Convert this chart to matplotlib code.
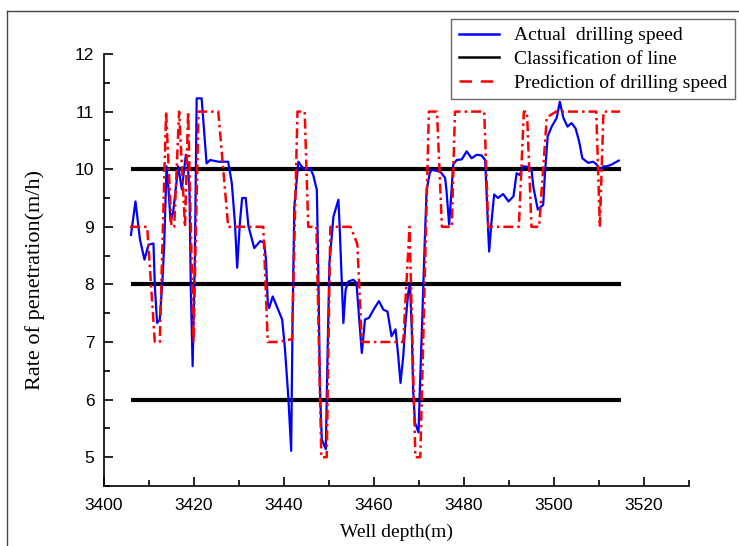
import matplotlib
matplotlib.use('Agg')
import matplotlib.pyplot as plt
from matplotlib.lines import Line2D
from matplotlib.ticker import MultipleLocator

# actual drilling speed (m/h) against well depth (m)
actual_depth = [3406.0, 3407.0, 3408.0, 3409.0, 3409.9, 3411.0, 3411.3, 3411.8, 3412.4, 3413.0,
                3413.4, 3413.9, 3414.3, 3414.8, 3415.4, 3416.5, 3417.3, 3418.2, 3418.6, 3419.0,
                3419.3, 3419.7, 3420.2, 3420.6, 3421.7, 3422.8, 3423.6, 3425.4, 3427.6, 3428.4,
                3429.1, 3429.6, 3430.2, 3430.7, 3431.5, 3432.1, 3433.4, 3434.7, 3435.6, 3436.0,
                3436.4, 3436.7, 3437.5, 3438.4, 3439.6, 3440.2, 3441.0, 3441.6, 3441.9, 3442.3,
                3443.2, 3443.9, 3444.7, 3445.8, 3446.5, 3447.3, 3447.6, 3448.0, 3448.4, 3449.3,
                3449.6, 3450.1, 3451.0, 3452.1, 3452.4, 3452.8, 3453.2, 3453.7, 3454.3, 3455.4,
                3456.1, 3456.9, 3457.3, 3458.0, 3458.9, 3459.9, 3461.1, 3462.1, 3463.0, 3463.9,
                3464.8, 3465.4, 3465.9, 3466.5, 3467.0, 3467.6, 3468.0, 3468.4, 3468.7, 3469.1,
                3469.9, 3470.2, 3470.7, 3471.3, 3471.7, 3472.4, 3472.8, 3474.7, 3475.8, 3476.1,
                3476.7, 3477.1, 3477.6, 3478.4, 3479.5, 3480.6, 3481.7, 3482.8, 3483.9, 3484.7,
                3485.0, 3485.4, 3485.6, 3486.1, 3486.7, 3487.6, 3488.7, 3489.9, 3491.0, 3491.7,
                3492.4, 3493.2, 3494.3, 3495.0, 3495.4, 3496.4, 3497.6, 3498.0, 3498.6, 3499.5,
                3500.6, 3501.3, 3502.1, 3503.0, 3503.9, 3504.8, 3505.6, 3506.3, 3507.6, 3508.7,
                3509.5, 3510.2, 3511.0, 3511.7, 3512.8, 3514.4]
actual_speed = [8.86, 9.44, 8.78, 8.43, 8.69, 8.71, 7.97, 7.33, 7.39, 8.08,
                8.72, 10.05, 9.70, 9.09, 9.27, 10.05, 9.65, 10.25, 10.1, 9.6,
                7.91, 6.58, 8.49, 11.23, 11.23, 10.10, 10.16, 10.13, 10.13, 9.76,
                9.07, 8.29, 9.07, 9.50, 9.50, 9.01, 8.63, 8.75, 8.73, 8.43,
                7.68, 7.59, 7.79, 7.62, 7.39, 6.90, 6.0, 5.11, 7.33, 9.35,
                10.13, 10.05, 9.99, 10.02, 9.90, 9.64, 8.37, 6.18, 5.31, 5.14,
                6.47, 8.37, 9.18, 9.47, 8.95, 8.14, 7.33, 7.91, 8.05, 8.08,
                8.03, 7.22, 6.81, 7.39, 7.42, 7.56, 7.71, 7.56, 7.53, 7.10,
                7.22, 6.75, 6.29, 6.75, 7.33, 7.85, 8.0, 7.22, 6.18, 5.60,
                5.43, 6.18, 7.33, 8.78, 9.64, 9.93, 9.99, 9.96, 9.85, 9.64,
                9.04, 9.47, 10.08, 10.16, 10.17, 10.31, 10.19, 10.25, 10.24, 10.16,
                9.64, 8.89, 8.57, 9.07, 9.56, 9.50, 9.57, 9.44, 9.53, 9.93,
                9.90, 10.05, 10.04, 10.0, 9.70, 9.30, 9.38, 9.93, 10.57, 10.74,
                10.89, 11.17, 10.89, 10.74, 10.80, 10.71, 10.48, 10.19, 10.11, 10.13,
                10.08, 9.99, 10.05, 10.05, 10.08, 10.15]

# predicted drilling speed class
pred_depth = [3405.8, 3409.6, 3411.3, 3412.4, 3413.8, 3415.0, 3415.6, 3416.7, 3418.0, 3418.7,
              3419.9, 3421.0, 3425.4, 3427.6, 3435.4, 3436.4, 3438.5, 3441.8, 3443.0, 3444.6,
              3445.4, 3447.2, 3448.3, 3449.5, 3450.3, 3454.8, 3456.3, 3457.3, 3466.5, 3467.9,
              3469.2, 3470.3, 3472.2, 3474.0, 3475.1, 3477.3, 3478.0, 3484.5, 3485.4, 3492.2,
              3493.3, 3494.0, 3495.0, 3496.7, 3498.4, 3500.5, 3509.4, 3510.2, 3511.0, 3514.7]
pred_speed = [9, 9, 7, 7, 11, 9, 9, 11, 9, 11,
              7, 11, 11, 9, 9, 7, 7, 7.05, 11, 11,
              9, 9, 5, 5, 9, 9, 8.7, 7, 7, 9,
              5, 5, 11, 11, 9, 9, 11, 11, 9, 9,
              11, 11, 9, 9, 10.9, 11, 11, 9, 11, 11]

# classification lines
class_levels = [10, 8, 6]
class_range = [3406, 3515]

plt.rcParams['font.family'] = ['Liberation Serif', 'DejaVu Serif']

fig = plt.figure(figsize=(7.39, 5.46), dpi=100)
ax = fig.add_axes([0.1407, 0.1099, 0.7916, 0.7912])

for lev in class_levels:
    ax.plot(class_range, [lev, lev], color='black', linewidth=3.0, solid_capstyle='butt', zorder=2)
ax.plot(actual_depth, actual_speed, color='#0000ff', linewidth=1.6, zorder=3)
ax.plot(pred_depth, pred_speed, color='#ff0000', linewidth=1.8,
        linestyle=(0, (4, 1.6, 1, 1.6)), zorder=4)

ax.set_xlim(3400, 3530)
ax.set_ylim(4.5, 12)
ax.xaxis.set_major_locator(MultipleLocator(20))
ax.xaxis.set_minor_locator(MultipleLocator(10))
ax.yaxis.set_major_locator(MultipleLocator(1))
ax.yaxis.set_minor_locator(MultipleLocator(0.5))
ax.spines['top'].set_visible(False)
ax.spines['right'].set_visible(False)
ax.spines['left'].set_linewidth(1.2)
ax.spines['bottom'].set_linewidth(1.2)
ax.tick_params(which='major', direction='in', length=6.5, width=1.2)
ax.tick_params(which='minor', direction='in', length=4, width=1.2)
ax.tick_params(axis='both', labelsize=12.5)
ax.tick_params(axis='x', pad=9)
ax.tick_params(axis='y', pad=7)
ax.set_xticks([3400, 3420, 3440, 3460, 3480, 3500, 3520])
for lab in ax.get_xticklabels() + ax.get_yticklabels():
    lab.set_fontfamily('Liberation Sans')

ax.set_xlabel('Well depth(m)', fontsize=14, labelpad=7)
ax.set_ylabel('Rate of penetration(m/h)', fontsize=16)
ax.yaxis.set_label_coords(-0.10, 0.477)

handles = [Line2D([], [], color='#0000ff', linewidth=1.8),
           Line2D([], [], color='black', linewidth=1.8),
           Line2D([], [], color='#ff0000', linewidth=1.8, linestyle=(0, (5, 3.5)))]
labels = ['Actual  drilling speed', 'Classification of line', 'Prediction of drilling speed']
leg = fig.legend(handles, labels, loc='upper right', bbox_to_anchor=(0.9946, 0.965),
                 fontsize=14, frameon=True, fancybox=False, edgecolor='#444444',
                 handlelength=2.1, handletextpad=0.75, borderpad=0.4, labelspacing=0.3,
                 borderaxespad=0)
leg.get_frame().set_linewidth(1.0)

# frame lines of the original picture
fig.add_artist(Line2D([0.0095, 1.0], [0.98, 0.98], color='#444444', linewidth=1.0))
fig.add_artist(Line2D([0.0095, 0.0095], [0.0, 0.98], color='#444444', linewidth=1.0))

fig.savefig('out.png', dpi=100)
